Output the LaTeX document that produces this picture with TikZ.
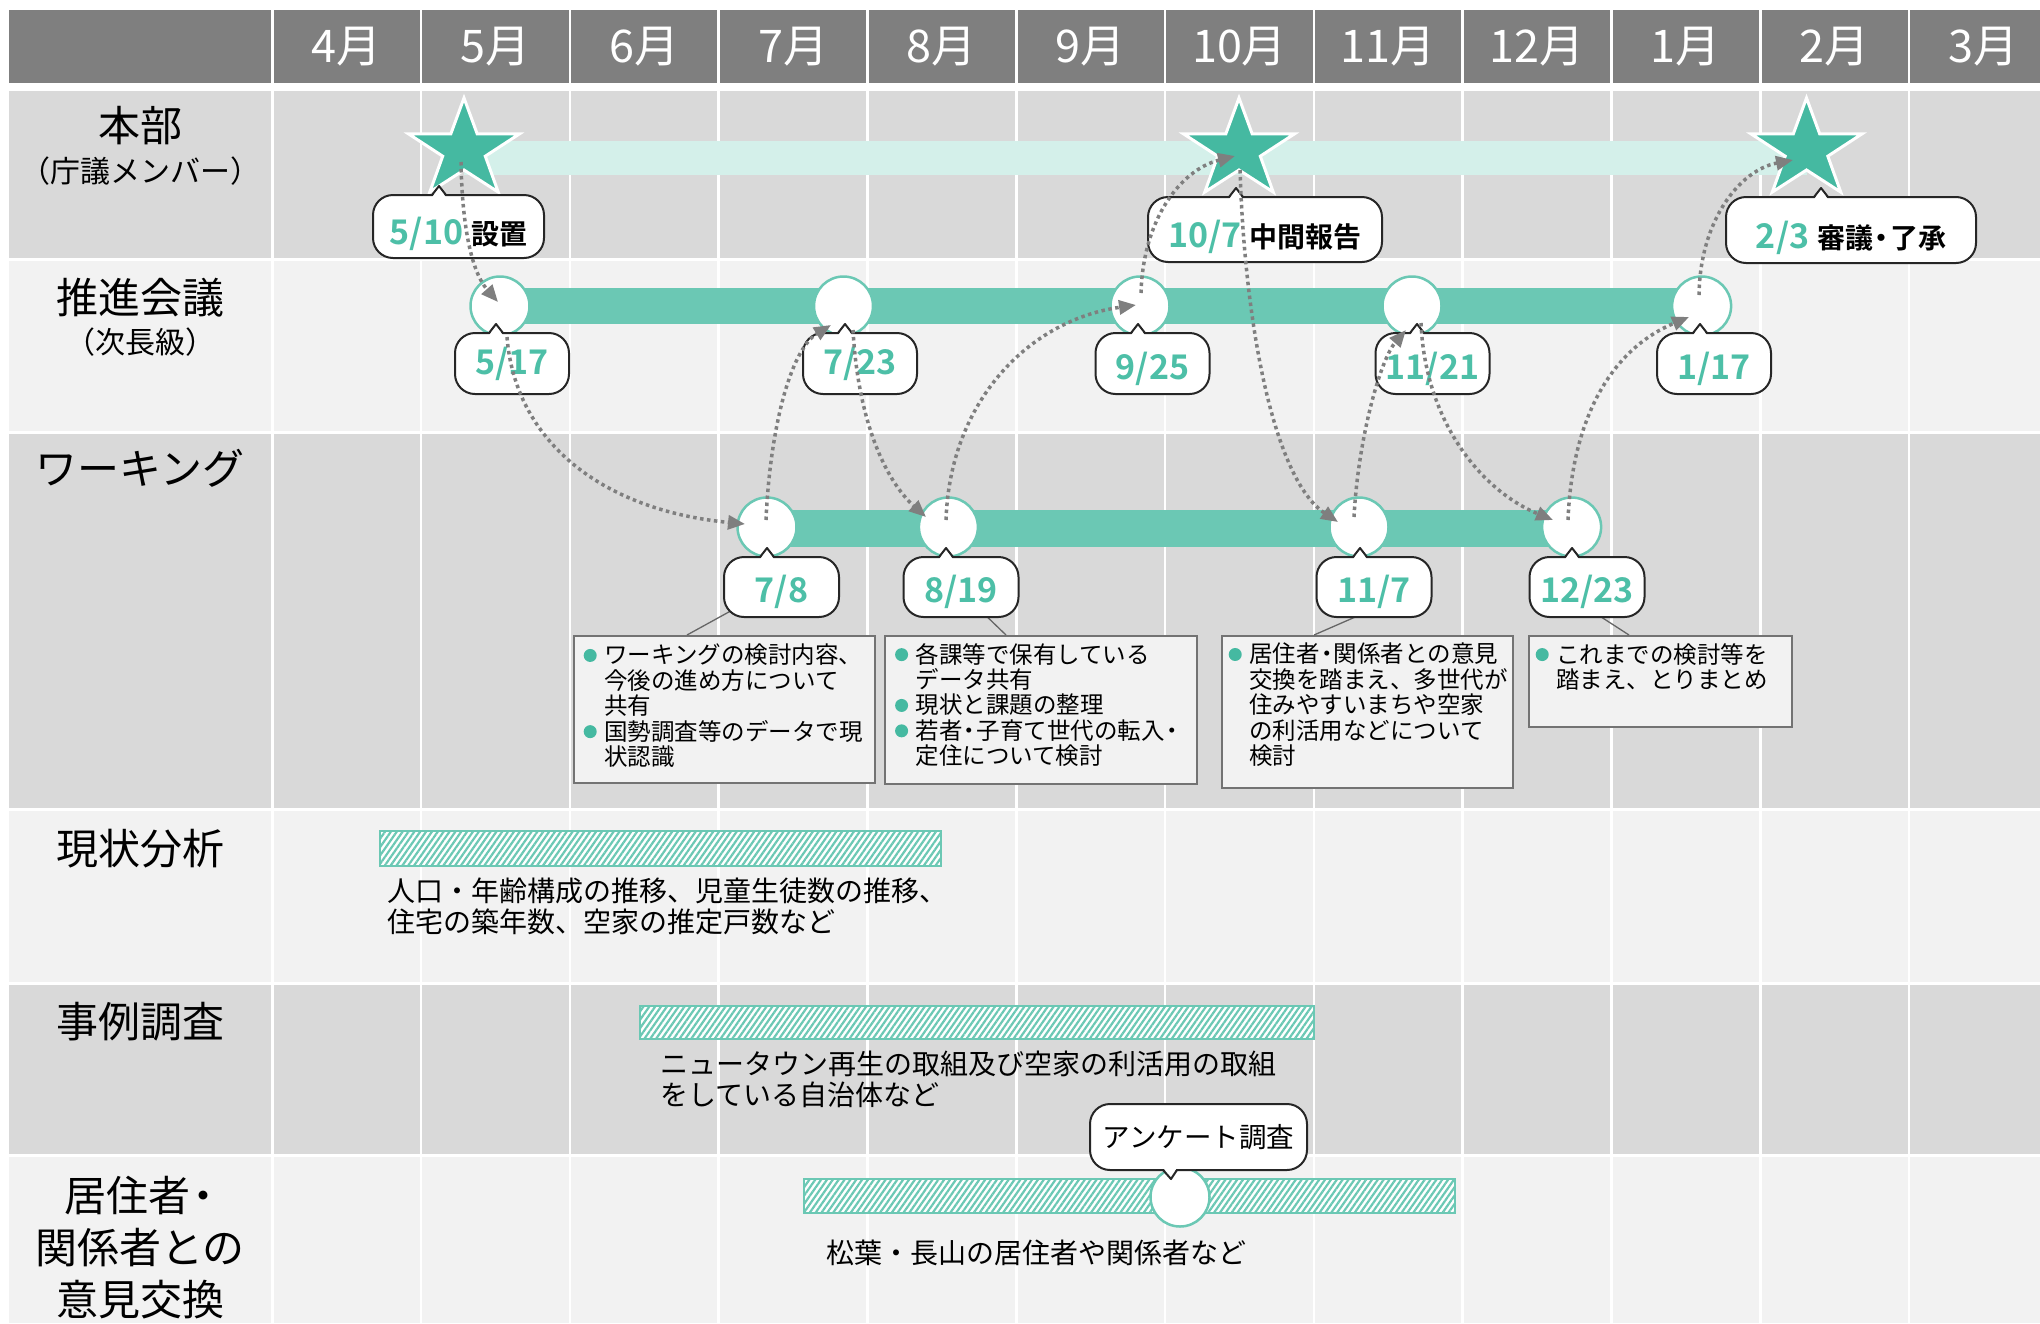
\documentclass[tikz,border=0pt]{standalone}
\usepackage{fontspec}
\setmainfont{Noto Sans CJK JP}[BoldFont={* Bold}]
\usetikzlibrary{calc,arrows.meta,patterns.meta}
\definecolor{hdrc}{HTML}{7F7F7F}
\definecolor{darkrow}{HTML}{D9D9D9}
\definecolor{lightrow}{HTML}{F2F2F2}
\definecolor{barc}{HTML}{6BC8B4}
\definecolor{starc}{HTML}{45B9A1}
\definecolor{lightbarc}{HTML}{D4F0EA}
\definecolor{datec}{HTML}{4DBFA7}
\definecolor{connc}{HTML}{7F7F7F}
\definecolor{bulc}{HTML}{45B9A1}
\newcommand\bul{\makebox[21pt][l]{\hspace{0.5pt}\raisebox{2pt}{\tikz\fill[bulc] (0,0) circle (6.5pt);}}}
\newcommand\ind{\hspace*{21pt}}
\newcommand\nd{\makebox[0.6em][c]{・}}
\newcommand\lp{\makebox[0.55em][r]{（}}
\newcommand\rp{\makebox[0.55em][l]{）}}
\newcommand\datef{\color{datec}\bfseries\fontsize{34}{34}\selectfont}
\newcommand\bubt{\color{black}\bfseries\fontsize{28}{28}\selectfont}
\newcommand\ptrup[2]{%
  \fill[white] ({#1-8},{#2+2.5}) -- ({#1-1},{#2-9}) -- ({#1+6},{#2+2.5}) -- cycle;
  \draw[bubline] ({#1-8},{#2}) -- ({#1-1},{#2-9}) -- ({#1+6},{#2});}
\newcommand\ptrdown[2]{%
  \fill[white] ({#1-7},{#2-2.5}) -- ({#1+1},{#2+9}) -- ({#1+7},{#2-2.5}) -- cycle;
  \draw[bubline] ({#1-7},{#2}) -- ({#1+1},{#2+9}) -- ({#1+7},{#2});}
\newcommand\drawstar[1]{%
  \filldraw[starsty, shift={(#1)}, xscale=1.12] (-90:52) -- (-54:20) -- (-18:52) -- (18:20) -- (54:52) -- (90:20) -- (126:52) -- (162:20) -- (198:52) -- (234:20) -- cycle;}
\tikzset{
  hdr/.style={text=white, font=\fontsize{45}{45}\selectfont, inner sep=0pt},
  lbl/.style={font=\fontsize{42}{52}\selectfont, align=center, inner sep=0pt},
  sublbl/.style={font=\fontsize{30}{32}\selectfont, inner sep=0pt},
  mile/.style={circle, draw=barc, line width=2.5pt, fill=white, minimum size=59pt, inner sep=0pt},
  bubblebox/.style={draw=black!85, line width=2pt, fill=white, rounded corners=20pt, inner sep=0pt},
  bubline/.style={draw=black!85, line width=2pt, line join=round},
  starsty/.style={fill=starc, draw=white, line width=3pt, line join=miter},
  conn/.style={draw=connc, line width=3.5pt, dash pattern=on 3.5pt off 3.5pt, -{Triangle[length=17pt,width=14pt]}},
  infobox/.style={draw=black!55, line width=1.5pt, fill=lightrow, inner sep=0pt, anchor=north west},
  infotxt/.style={font=\fontsize{23.5}{25.4}\selectfont, align=left, anchor=north west, inner sep=0pt},
  hatchbar/.style={draw=barc, line width=1.5pt, preaction={fill=white}, pattern={Lines[angle=55,distance=4.8pt,line width=2.2pt]}, pattern color=barc},
  plaintxt/.style={font=\fontsize{28}{31}\selectfont, align=left, inner sep=0pt},
  leader/.style={draw=black!60, line width=1.3pt},
  lowtop/.style={text height=36pt, text depth=0pt},
  lowmid/.style={text height=32pt, text depth=0pt},
  lowbot/.style={text height=30pt, text depth=0pt},
}
\begin{document}
\begin{tikzpicture}[x=1pt,y=-1pt]
\useasboundingbox (0,0) rectangle (2040,1323);
\fill[white] (0,0) rectangle (2040,1323);
% rows
\fill[hdrc] (9,10) rectangle (2040,83);
\fill[darkrow] (9,91) rectangle (2040,259.5);
\fill[lightrow] (9,259.5) rectangle (2040,432.5);
\fill[darkrow] (9,432.5) rectangle (2040,809.5);
\fill[lightrow] (9,809.5) rectangle (2040,983);
\fill[darkrow] (9,983) rectangle (2040,1155.5);
\fill[lightrow] (9,1155.5) rectangle (2040,1323);
% grid
\foreach \i in {0,...,11} \draw[white, line width=2.6pt] ({272.3+148.8*\i},10) -- ({272.3+148.8*\i},1323);
\foreach \yy in {259.5,432.5,809.5,983,1155.5} \draw[white, line width=3pt] (9,\yy) -- (2040,\yy);
% header
\foreach \m [count=\i from 0] in {4,5,6,7,8,9,10,11,12,1,2,3}
  \node[hdr] (m\i) at ({346.7+148.8*\i},47) {\m 月};
% labels
\node[lbl] (l1) at (140,126) {本部};
\node[sublbl] (l1s) at (140,171) {\lp 庁議メンバー\rp};
\node[lbl] (l2) at (140,298) {推進会議};
\node[sublbl] (l2s) at (140,342) {\lp 次長級\rp};
\node[lbl] (l3) at (140,468) {ワーキング};
\node[lbl] (l4) at (140,849) {現状分析};
\node[lbl] (l5) at (140,1022) {事例調査};
\node[lbl] (l6) at (140,1247.5) {居住者\nd\\関係者との\\意見交換};
% milestones coordinates
\coordinate (s510) at (464,150);
\coordinate (s107) at (1239,150);
\coordinate (s23) at (1806.5,150);
% bars
\fill[lightbarc] ($(s510)+(0,-9)$) rectangle ($(s23)+(0,25)$);
\fill[barc] (500,288) rectangle (1701.6,324);
\fill[barc] (767,510) rectangle (1571.6,547);
% hatch bars
\path[hatchbar] (380,831) rectangle (941,866);
\path[hatchbar] (640,1006) rectangle (1314,1039);
\path[hatchbar] (804,1179) rectangle (1455,1213);
% stars
\drawstar{s510}
\drawstar{s107}
\drawstar{s23}
% circles
\node[mile] (c517) at (500,306) {};
\node[mile] (c723) at (843.5,306) {};
\node[mile] (c925) at (1140,306) {};
\node[mile] (c1121) at (1412,306) {};
\node[mile] (c117) at (1701.6,306) {};
\node[mile] (w78) at (767,527) {};
\node[mile] (w819) at (948.4,527) {};
\node[mile] (w117) at (1359,527) {};
\node[mile] (w1223) at (1571.6,527) {};
\node[mile] (sv) at (1180,1197) {};
% info boxes
\node[infobox, minimum width=301pt, minimum height=147pt] (ib78) at (573,635) {};
\node[infobox, minimum width=312pt, minimum height=148pt] (ib819) at (884,635) {};
\node[infobox, minimum width=291pt, minimum height=152pt] (ib117) at (1221,635) {};
\node[infobox, minimum width=263pt, minimum height=91pt] (ib1223) at (1528,635) {};
\node[infotxt] (t78) at (583,644) {\bul ワーキングの検討内容、\\\ind 今後の進め方について\\\ind 共有\\\bul 国勢調査等のデータで現\\\ind 状認識};
\node[infotxt] (t819) at (894.4,643) {\bul 各課等で保有している\\\ind データ共有\\\bul 現状と課題の整理\\\bul 若者\nd 子育て世代の転入\nd\\\ind 定住について検討};
\node[infotxt] (t117) at (1228,643) {\bul 居住者\nd 関係者との意見\\\ind 交換を踏まえ、多世代が\\\ind 住みやすいまちや空家\\\ind の利活用などについて\\\ind 検討};
\node[infotxt] (t1223) at (1535,643) {\bul これまでの検討等を\\\ind 踏まえ、とりまとめ};
% top bubbles
\node[bubblebox, lowtop, minimum width=171pt, minimum height=63pt] (bb510) at (458.5,226.5) {\datef 5/10\hspace{8pt}\bubt 設置};
\ptrup{440}{195}
\node[bubblebox, lowtop, minimum width=234pt, minimum height=65pt] (bb107) at (1265,229.5) {\datef 10/7\hspace{8pt}\bubt 中間報告};
\ptrup{1237}{197}
\node[bubblebox, lowtop, minimum width=250pt, minimum height=66pt] (bb23) at (1851,230) {\datef 2/3\hspace{8pt}\bubt 審議\nd 了承};
\ptrup{1822}{197}
% row-2 bubbles
\node[bubblebox, minimum width=114pt, minimum height=61pt] (bc517) at (512,363.5) {\datef 5/17};
\ptrup{497}{333}
\node[bubblebox, minimum width=114pt, minimum height=61pt] (bc723) at (860,363.5) {\datef 7/23};
\ptrup{846}{333}
\node[bubblebox, lowmid, minimum width=114pt, minimum height=61pt] (bc925) at (1152.5,363.5) {\datef 9/25};
\ptrup{1139}{333}
\node[bubblebox, lowmid, minimum width=114pt, minimum height=61pt] (bc1121) at (1432.5,363.5) {\datef 11/21};
\ptrup{1418}{333}
\node[bubblebox, lowmid, minimum width=114pt, minimum height=61pt] (bc117) at (1714,363.5) {\datef 1/17};
\ptrup{1701}{333}
% leaders
\draw[leader] ($(ib78.north west)+(114,0)$) -- (741.5,605);
\draw[leader] ($(ib819.north west)+(122,0)$) -- (979,609);
\draw[leader] ($(ib117.north west)+(93,0)$) -- (1369,611);
\draw[leader] ($(ib1223.north west)+(101,0)$) -- (1595,613);
% row-3 bubbles
\node[bubblebox, lowbot, minimum width=115pt, minimum height=60pt] (bw78) at (781.5,587) {\datef 7/8};
\ptrup{768}{557}
\node[bubblebox, lowbot, minimum width=115pt, minimum height=60pt] (bw819) at (961,587) {\datef 8/19};
\ptrup{947}{557}
\node[bubblebox, lowbot, minimum width=115pt, minimum height=60pt] (bw117) at (1374,587) {\datef 11/7};
\ptrup{1361}{557}
\node[bubblebox, lowbot, minimum width=115pt, minimum height=60pt] (bw1223) at (1587,587) {\datef 12/23};
\ptrup{1573}{557}
% survey bubble
\node[bubblebox, minimum width=217pt, minimum height=66pt, font=\fontsize{27.5}{28}\selectfont] (bsv) at (1198.5,1137) {アンケート調査};
\ptrdown{1170}{1170}
% texts under hatch bars
\node[plaintxt, anchor=north west] (tx1) at (387,878) {人口・年齢構成の推移、児童生徒数の推移、\\住宅の築年数、空家の推定戸数など};
\node[plaintxt, anchor=north west] (tx2) at (660,1051) {ニュータウン再生の取組及び空家の利活用の取組\\をしている自治体など};
\node[plaintxt, anchor=base west] (tx3) at (826,1263) {松葉・長山の居住者や関係者など};
% connectors
\draw[conn] ($(s510)+(-3,12)$) .. controls (462,220) and (470,270) .. ($(c517)+(-2,-4)$);
\draw[conn] ($(c517)+(7,31)$) .. controls (515,440) and (600,510) .. ($(w78)+(-22,-3)$);
\draw[conn] ($(w78)+(-1,-7)$) .. controls (770,430) and (790,350) .. ($(c723)+(-12.5,19)$);
\draw[conn] ($(c723)+(9.5,24)$) .. controls (858,420) and (885,480) .. ($(w819)+(-22.4,-10)$);
\draw[conn] ($(w819)+(-2.4,-7)$) .. controls (950,400) and (1030,320) .. ($(c925)+(-4,-1)$);
\draw[conn] ($(c925)+(1,-13)$) .. controls (1143,220) and (1180,170) .. ($(s107)+(-4,6)$);
\draw[conn] ($(s107)+(1,20)$) .. controls (1245,330) and (1275,480) .. ($(w117)+(-21,-5)$);
\draw[conn] ($(w117)+(-5,-10)$) .. controls (1358,440) and (1380,360) .. ($(c1121)+(-6,24)$);
\draw[conn] ($(c1121)+(9,17)$) .. controls (1425,420) and (1480,490) .. ($(w1223)+(-18.6,-7)$);
\draw[conn] ($(w1223)+(-3.6,-7)$) .. controls (1572,420) and (1610,350) .. ($(c117)+(-12.6,11)$);
\draw[conn] ($(c117)+(-2.6,-11)$) .. controls (1700,220) and (1740,170) .. ($(s23)+(-13.5,10)$);
\end{tikzpicture}
\end{document}
